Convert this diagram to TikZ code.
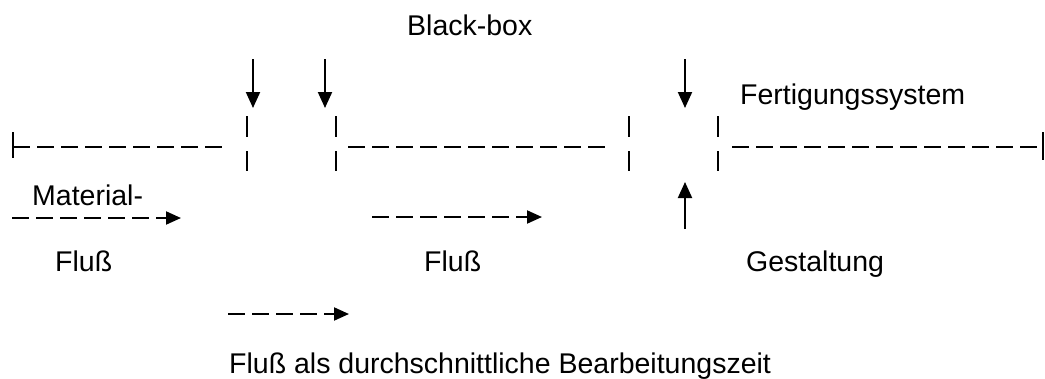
\documentclass[tikz,border=0pt]{standalone}
\usepackage{fontspec}
\setmainfont{Liberation Sans}
\usetikzlibrary{arrows.meta}
\begin{document}
\begin{tikzpicture}[x=1pt,y=-1pt,
  lbl/.style={inner sep=0pt,anchor=base west,font=\fontsize{28.5}{34}\selectfont},
  flowline/.style={line width=2pt,dash pattern=on 17pt off 7pt},
  bar/.style={line width=2.5pt},
  tick/.style={line width=2pt},
  inarrow/.style={line width=2pt,-{Triangle[length=16pt,width=14pt]}},
  flowarrow/.style={line width=2pt,dash pattern=on 17pt off 7pt,-{Triangle[length=15pt,width=13pt]}}]
\useasboundingbox (0,0) rectangle (1045,378);
% main line
\coordinate (L0) at (13,147);
\coordinate (L1) at (225,147);
\coordinate (M0) at (348,147);
\coordinate (M1) at (610,147);
\coordinate (R0) at (732,147);
\coordinate (R1) at (1043,147);
\draw[flowline] (L0) -- (L1);
\draw[flowline] (M0) -- (M1);
\draw[flowline] (R0) -- (R1);
\draw[tick] (13,132) -- (13,158);
\draw[tick] (1043,132) -- (1043,160);
% bars
\foreach \x in {247,336,629,718}{
  \draw[bar] (\x,116) -- (\x,137);
  \draw[bar] (\x,151) -- (\x,171);
}
% input arrows
\coordinate (a1s) at (253,59); \coordinate (a1e) at (253,108);
\coordinate (a2s) at (325,59); \coordinate (a2e) at (325,108);
\coordinate (a3s) at (685,59); \coordinate (a3e) at (685,108);
\coordinate (a4s) at (685,229); \coordinate (a4e) at (685,182);
\draw[inarrow] (a1s) -- (a1e);
\draw[inarrow] (a2s) -- (a2e);
\draw[inarrow] (a3s) -- (a3e);
\draw[inarrow] (a4s) -- (a4e);
% flow arrows
\coordinate (f1s) at (12,218); \coordinate (f1e) at (181,218);
\coordinate (f2s) at (372,217); \coordinate (f2e) at (542,217);
\coordinate (f3s) at (228,314); \coordinate (f3e) at (349,314);
\draw[flowarrow] (f1s) -- (f1e);
\draw[flowarrow] (f2s) -- (f2e);
\draw[flowarrow] (f3s) -- (f3e);
% labels
\node[lbl] (bb) at (407,35) {Black-box};
\node[lbl] (fs) at (740,104) {Fertigungssystem};
\node[lbl] (mat) at (32,205) {Material-};
\node[lbl] (fl1) at (55,271) {Fluß};
\node[lbl] (fl2) at (424,271) {Fluß};
\node[lbl] (ge) at (746,271) {Gestaltung};
\node[lbl] (bz) at (229,373) {Fluß als durchschnittliche Bearbeitungszeit};
\end{tikzpicture}
\end{document}
